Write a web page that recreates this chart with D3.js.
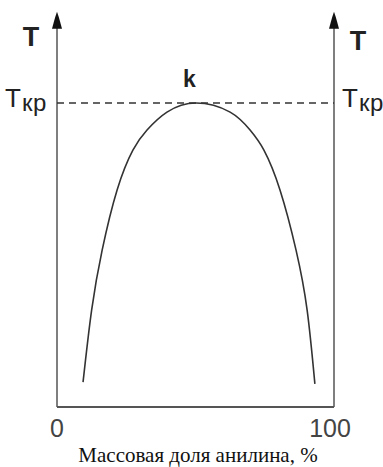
<!DOCTYPE html>
<html>
<head>
    <meta charset="utf-8">
    <style>
        body {
            margin: 0;
            background: white;
        }

        svg {
            display: block;
        }

        .lbl {
            font-family: 'Liberation Sans', Arial, sans-serif;
            fill: #222;
        }

        .title {
            font-family: 'Liberation Serif', 'Times New Roman', serif;
            font-size: 21px;
            fill: #111;
        }
    </style>
</head>

<body>
    <svg width="383" height="467"></svg>
</body>

<script src="https://d3js.org/d3.v7.min.js"></script>

<script>
    // composition (% aniline) along the bottom
    let xTicks = [0, 100];
    // temperature axis: arbitrary units, T critical = 100
    let tCrit = 100;
    let tTop = 130;

    // solubility curve
    let curveX = [9.4, 12.5, 16.3, 21.7, 27.4, 32.5, 39.7, 50.2, 62.5, 69.7, 74.7, 80.5, 86.3, 90.3, 93.1];
    let curveT = [8.2, 31.9, 51.6, 71.4, 84.5, 91.1, 97.0, 100, 97.0, 91.1, 84.5, 71.4, 51.6, 31.9, 7.6];

    let svg = d3.select("svg")

    let x = d3.scaleLinear()
        .domain([0, 100])
        .range([57, 334])

    let y = d3.scaleLinear()
        .domain([0, 100])
        .range([407, 103])

    let axisColor = "#555"

    // two vertical axes + bottom axis
    svg.selectAll(".vaxis")
        .data(xTicks)
        .join("line")
        .attr("x1", d => x(d))
        .attr("x2", d => x(d))
        .attr("y1", y(0))
        .attr("y2", y(tTop) + 6)
        .style("stroke", axisColor)
        .style("stroke-width", 1.5)

    svg.append("line")
        .attr("x1", x(0))
        .attr("x2", x(100))
        .attr("y1", y(0))
        .attr("y2", y(0))
        .style("stroke", axisColor)
        .style("stroke-width", 1.8)

    // arrow heads
    svg.selectAll(".arrow")
        .data(xTicks)
        .join("path")
        .attr("d", d => {
            let cx = x(d), ty = y(tTop)
            return `M${cx},${ty} L${cx - 2},${ty + 6} L${cx - 5},${ty + 17} L${cx + 5},${ty + 17} L${cx + 2},${ty + 6} Z`
        })
        .style("fill", "#111")

    // dashed line at T critical
    svg.append("line")
        .attr("x1", x(0))
        .attr("x2", x(100))
        .attr("y1", y(tCrit))
        .attr("y2", y(tCrit))
        .style("stroke", "#333")
        .style("stroke-width", 1.5)
        .style("stroke-dasharray", "7,5")

    // the curve
    let pts = curveX.map((d, i) => [d, curveT[i]])
    let line = d3.line()
        .x(d => x(d[0]))
        .y(d => y(d[1]))
        .curve(d3.curveNatural)

    svg.append("path")
        .attr("d", line(pts))
        .style("fill", "none")
        .style("stroke", "#333")
        .style("stroke-width", 1.6)

    // T labels at top
    svg.append("text")
        .attr("class", "lbl")
        .attr("x", 31)
        .attr("y", 46)
        .attr("text-anchor", "middle")
        .style("font-size", "27px")
        .style("font-weight", "bold")
        .text("T")

    svg.append("text")
        .attr("class", "lbl")
        .attr("x", 358)
        .attr("y", 50)
        .attr("text-anchor", "middle")
        .style("font-size", "27px")
        .style("font-weight", "bold")
        .text("T")

    // T кр labels
    let tkr = svg.selectAll(".tkr")
        .data([5, 342])
        .join("text")
        .attr("class", "lbl")
        .attr("x", d => d)
        .attr("y", y(tCrit) + 4)
        .style("font-size", "26px")

    tkr.append("tspan").text("T")
    tkr.append("tspan")
        .attr("dy", 4)
        .attr("dx", 1)
        .style("font-size", "24px")
        .style("letter-spacing", "0.5px")
        .text("кр")

    // k at the critical point
    svg.append("text")
        .attr("class", "lbl")
        .attr("x", x(50) - 6)
        .attr("y", 87)
        .attr("text-anchor", "middle")
        .style("font-size", "23px")
        .style("font-weight", "bold")
        .text("k")

    // 0 and 100
    svg.selectAll(".tick")
        .data(xTicks)
        .join("text")
        .attr("class", "lbl")
        .attr("x", d => d == 0 ? x(d) : x(d) - 4)
        .attr("y", 437)
        .attr("text-anchor", "middle")
        .style("font-size", "25px")
        .style("fill", "#444")
        .text(d => d)

    svg.append("text")
        .attr("class", "title")
        .attr("x", 198)
        .attr("y", 462)
        .attr("text-anchor", "middle")
        .text("Массовая доля анилина, %")
</script>
</html>
